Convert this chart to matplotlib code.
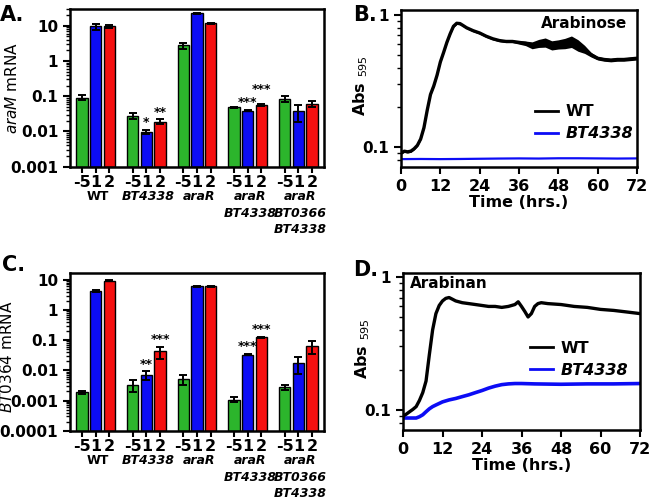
import numpy as np
import matplotlib
matplotlib.use("Agg")
import matplotlib.pyplot as plt
from matplotlib.ticker import LogLocator, NullFormatter
from matplotlib.lines import Line2D

plt.rcParams['font.family'] = ['DejaVu Sans']
plt.rcParams['mathtext.fontset'] = 'dejavusans'

# ---------------- data ----------------
groups = ["WT", "BT4338", "araR", "araR\nBT4338", "araR\nBT0366\nBT4338"]
group_italic = [False, True, True, True, True]
days = ["-5", "1", "2"]
bar_colors = ["#2cb52c", "#0c0cf5", "#f51010"]

# panel A: araM mRNA (mean, error) per group, per day (-5, 1, 2)
araM_mean = [[0.092, 9.6, 9.6],
             [0.028, 0.0098, 0.019],
             [2.76, 23.0, 11.9],
             [0.048, 0.039, 0.056],
             [0.084, 0.038, 0.061]]
araM_err = [[0.014, 2.0, 0.9],
            [0.006, 0.0015, 0.003],
            [0.5, 0.8, 0.5],
            [0.001, 0.002, 0.004],
            [0.015, 0.02, 0.012]]
araM_stars = [(1, 1, "*"), (1, 2, "**"), (3, 1, "***"), (3, 2, "***")]

# panel C: BT0364 mRNA
bt0364_mean = [[0.0019, 4.3, 9.3],
               [0.0033, 0.0071, 0.042],
               [0.0052, 6.0, 6.0],
               [0.00107, 0.033, 0.124],
               [0.0028, 0.0175, 0.062]]
bt0364_err = [[0.0002, 0.4, 0.3],
              [0.0014, 0.0022, 0.019],
              [0.002, 0.15, 0.15],
              [0.0002, 0.0012, 0.006],
              [0.0005, 0.01, 0.028]]
bt0364_stars = [(1, 1, "**"), (1, 2, "***"), (3, 1, "***"), (3, 2, "***")]

# panel B: growth on arabinose (hours, Abs595)
tB_wt = [0, 1, 2, 3, 4, 5, 6, 7, 8, 9, 10, 11, 12, 13, 14, 15, 16, 17, 18, 19, 20,
         22, 24, 26, 28, 30, 32, 34, 36, 38, 40, 42, 44, 46, 48, 50, 52, 54, 56, 58,
         60, 62, 64, 66, 68, 70, 72]
absB_wt = [0.090, 0.093, 0.092, 0.093, 0.097, 0.103, 0.115, 0.14, 0.19, 0.25, 0.29,
           0.35, 0.44, 0.52, 0.62, 0.72, 0.82, 0.865, 0.86, 0.83, 0.80,
           0.76, 0.73, 0.69, 0.66, 0.64, 0.63, 0.63, 0.62, 0.61, 0.59, 0.61, 0.62,
           0.59, 0.60, 0.61, 0.63, 0.59, 0.55, 0.50,
           0.47, 0.46, 0.455, 0.46, 0.46, 0.465, 0.47]
spreadB_wt = [0.02, 0.02, 0.02, 0.02, 0.02, 0.02, 0.02, 0.02, 0.02, 0.02, 0.02,
              0.02, 0.02, 0.02, 0.02, 0.02, 0.02, 0.02, 0.02, 0.02, 0.02,
              0.02, 0.02, 0.02, 0.02, 0.02, 0.02, 0.02, 0.03, 0.04, 0.06, 0.07, 0.08,
              0.08, 0.08, 0.09, 0.10, 0.10, 0.07, 0.04,
              0.03, 0.03, 0.03, 0.03, 0.03, 0.03, 0.03]
tB_mut = [0, 6, 12, 18, 24, 30, 36, 42, 48, 54, 60, 66, 72]
absB_mut = [0.081, 0.0812, 0.081, 0.0812, 0.0815, 0.0818, 0.082, 0.0818, 0.0822,
            0.0822, 0.082, 0.0818, 0.082]

# panel D: growth on arabinan
tD_wt = [0, 1, 2, 3, 4, 5, 6, 7, 8, 9, 10, 11, 12, 13, 14, 15, 16, 18, 20, 22, 24,
         26, 28, 30, 32, 34, 35, 36, 37, 38, 39, 40, 41, 42, 44, 48, 52, 56, 60, 64,
         68, 72]
absD_wt = [0.090, 0.093, 0.097, 0.101, 0.106, 0.118, 0.135, 0.165, 0.26, 0.40,
           0.53, 0.61, 0.66, 0.69, 0.70, 0.68, 0.66, 0.64, 0.63, 0.62, 0.61,
           0.60, 0.60, 0.59, 0.60, 0.62, 0.65, 0.60, 0.55, 0.50, 0.53, 0.60, 0.63,
           0.64, 0.63, 0.62, 0.60, 0.59, 0.57, 0.56, 0.545, 0.53]
tD_mut = [0, 2, 4, 5, 6, 7, 8, 9, 10, 12, 14, 16, 18, 20, 22, 24, 26, 28, 30, 32,
          34, 36, 40, 48, 56, 64, 72]
absD_mut = [0.087, 0.087, 0.087, 0.089, 0.092, 0.097, 0.102, 0.106, 0.109, 0.115,
            0.119, 0.122, 0.126, 0.130, 0.135, 0.140, 0.146, 0.151, 0.155, 0.157,
            0.158, 0.158, 0.157, 0.156, 0.157, 0.157, 0.158]
time_ticks = [0, 12, 24, 36, 48, 60, 72]

# ---------------- figure ----------------
W, H = 650, 503
fig = plt.figure(figsize=(W / 100, H / 100), dpi=100)


def px_axes(l, t, r, b):
    return fig.add_axes([l / W, (H - b) / H, (r - l) / W, (b - t) / H])


axA = px_axes(70, 9, 324, 166.7)
axC = px_axes(70, 273, 324, 430.7)
axB = px_axes(401, 10, 637, 167)
axD = px_axes(403, 273, 640, 430)

GSP = 3.7
TICKFS = 11


def style_axes(ax):
    for s in ax.spines.values():
        s.set_linewidth(1.8)
    ax.tick_params(which='major', direction='out', width=1.5, length=5,
                   labelsize=TICKFS)
    ax.tick_params(which='minor', direction='out', width=1.0, length=3)
    for lab in ax.get_xticklabels() + ax.get_yticklabels():
        lab.set_fontweight('bold')


def bar_panel(ax, means, errs, stars, ylo, yhi, ylabel, ylab_x, ylab_y,
              star_lift):
    xs_all = []
    for g in range(len(groups)):
        for i in range(3):
            x = g * GSP + i
            xs_all.append(x)
            m = means[g][i]
            e = errs[g][i]
            ax.bar(x, m - ylo, bottom=ylo, width=0.82, color=bar_colors[i],
                   edgecolor='black', linewidth=1.0, zorder=2)
            ax.errorbar(x, m, yerr=[[min(e, m - ylo * 1.01)], [e]], fmt='none',
                        ecolor='black', elinewidth=1.4, capsize=2.6,
                        capthick=1.4, zorder=3)
    for k, (g, i, s) in enumerate(stars):
        x = g * GSP + i
        top = means[g][i] + errs[g][i]
        ax.annotate(s, (x, top), xytext=(0, 0.5 + star_lift[k]),
                    textcoords='offset points',
                    ha='center', va='bottom', fontsize=9, fontweight='bold',
                    zorder=4)
    ax.set_yscale('log')
    ax.set_ylim(ylo, yhi)
    ax.set_xlim(-0.87, (len(groups) - 1) * GSP + 2 + 0.87)
    ax.yaxis.set_major_locator(LogLocator(base=10, numticks=20))
    ax.yaxis.set_minor_locator(LogLocator(base=10, subs=np.arange(2, 10) * 0.1,
                                          numticks=50))
    ax.yaxis.set_minor_formatter(NullFormatter())
    ax.yaxis.set_major_formatter(matplotlib.ticker.FuncFormatter(
        lambda v, p: ('%g' % v)))
    ax.set_xticks(xs_all)
    ax.set_xticklabels(days * len(groups))
    style_axes(ax)
    ax.tick_params(axis='x', which='major', length=4, labelsize=11.5, pad=2)
    for lab in ax.get_xticklabels():
        lab.set_fontweight('bold')
    for g, name in enumerate(groups):
        ax.text(g * GSP + 1.15, -0.15, name, transform=ax.get_xaxis_transform(),
                ha='center', va='top', fontsize=9, fontweight='bold',
                style='italic' if group_italic[g] else 'normal', linespacing=1.35)
    ax.set_ylabel(ylabel, fontsize=11)
    ax.yaxis.set_label_coords(ylab_x, ylab_y)


bar_panel(axA, araM_mean, araM_err, araM_stars, 0.001, 30,
          r'$\it{araM}$ mRNA', -0.197, 0.5, [0, 0, 0, 5])
bar_panel(axC, bt0364_mean, bt0364_err, bt0364_stars, 0.0001, 16.7,
          r'$\it{BT0364}$ mRNA', -0.217, 0.47, [0, 0, 0, 0])


def growth_panel(ax, t_wt, a_wt, t_mut, a_mut, ylo, yhi, lw_mut):
    ax.plot(t_wt, a_wt, color='black', lw=2.4, zorder=3)
    ax.plot(t_mut, a_mut, color='#0c0cf5', lw=lw_mut, zorder=2)
    ax.set_yscale('log')
    ax.set_ylim(ylo, yhi)
    ax.set_xlim(0, 72)
    ax.set_xticks(time_ticks)
    ax.set_yticks([0.1, 1])
    ax.set_yticklabels(['0.1', '1'])
    ax.yaxis.set_minor_locator(LogLocator(base=10, subs=np.arange(2, 10) * 0.1,
                                          numticks=50))
    ax.yaxis.set_minor_formatter(NullFormatter())
    style_axes(ax)
    ax.tick_params(axis='x', labelsize=11.5)
    for lab in ax.get_xticklabels():
        lab.set_fontweight('bold')
    ax.set_xlabel('Time (hrs.)', fontsize=11.5, fontweight='bold', labelpad=1)
    ax.set_ylabel(r'Abs $_{595}$', fontsize=11.5, fontweight='bold')
    ax.yaxis.set_label_coords(-0.131, 0.52)


growth_panel(axB, tB_wt, absB_wt, tB_mut, absB_mut, 0.0706, 1.09, 1.6)
lo = [a * (1 - s) for a, s in zip(absB_wt, spreadB_wt)]
hi = [a * (1 + s) for a, s in zip(absB_wt, spreadB_wt)]
axB.fill_between(tB_wt, lo, hi, color='black', lw=0, zorder=3)
growth_panel(axD, tD_wt, absD_wt, tD_mut, absD_mut, 0.0707, 1.07, 2.6)

axB.text(0.958, 0.917, 'Arabinose', transform=axB.transAxes, ha='right',
         va='center', fontsize=11, fontweight='bold')
axD.text(0.03, 0.936, 'Arabinan', transform=axD.transAxes, ha='left',
         va='center', fontsize=11, fontweight='bold')

for ax, x0, y0 in [(axB, 0.568, 0.40), (axD, 0.536, 0.57)]:
    handles = [Line2D([], [], color='black', lw=2), Line2D([], [], color='#0c0cf5', lw=2)]
    leg = ax.legend(handles, ['WT', 'BT4338'], loc='upper left',
                    bbox_to_anchor=(x0, y0), frameon=False, borderpad=0,
                    borderaxespad=0, handlelength=1.45, handletextpad=0.45,
                    labelspacing=0.45, prop={'size': 11.5, 'weight': 'bold'})
    leg.get_texts()[1].set_style('italic')

for txt, x, y in [('A.', 0, 15), ('B.', 353, 15), ('C.', 2, 265), ('D.', 353, 270)]:
    fig.text(x / W, 1 - y / H, txt, ha='left', va='center', fontsize=15,
             fontweight='bold')

fig.savefig('out.png', dpi=100)
